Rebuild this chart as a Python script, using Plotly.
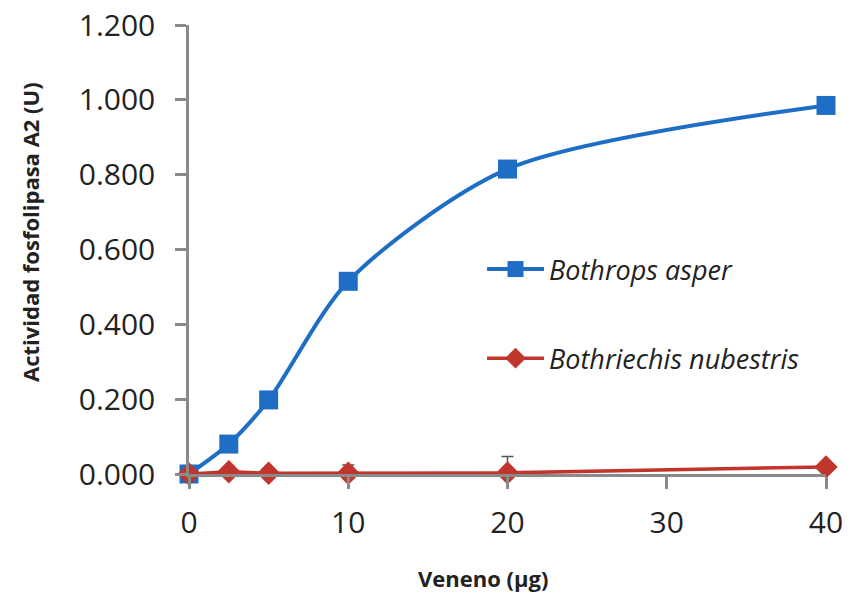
import plotly.graph_objects as go

x_vals = [0, 2.5, 5, 10, 20, 40]
bothrops = [0.000, 0.080, 0.198, 0.515, 0.815, 0.985]
bothriechis = [0.000, 0.006, 0.002, 0.002, 0.003, 0.019]
bothriechis_err = [0.0, 0.0, 0.0, 0.022, 0.044, 0.0]
y_ticks = [0, 0.2, 0.4, 0.6, 0.8, 1.0, 1.2]
y_labels = ["0.000", "0.200", "0.400", "0.600", "0.800", "1.000", "1.200"]
x_ticks = [0, 10, 20, 30, 40]

FONT = "Open Sans, Liberation Sans, sans-serif"
BLUE = "#1F6EC6"
RED = "#C0362C"

fig = go.Figure()
fig.add_trace(go.Scatter(
    x=x_vals, y=bothrops, mode="lines+markers", name="Bothrops asper",
    line=dict(color=BLUE, width=4, shape="spline", smoothing=0.8),
    marker=dict(symbol="square", size=19, color=BLUE),
    cliponaxis=False, legendgroup="a",
))
fig.add_trace(go.Scatter(
    x=x_vals, y=bothriechis, mode="lines+markers", name="Bothriechis nubestris",
    line=dict(color=RED, width=3.5),
    marker=dict(symbol="diamond", size=18, color=RED),
    error_y=dict(type="data", array=bothriechis_err, color="#555555", thickness=1.5, width=6),
    cliponaxis=False, legendgroup="b",
))

fig.update_layout(
    width=849, height=594,
    margin=dict(l=189, r=23, t=25, b=120, autoexpand=False),
    paper_bgcolor="white", plot_bgcolor="white",
    font=dict(family=FONT, color="#222222"),
    showlegend=True,
    legend=dict(x=0.46, y=0.51, xanchor="left", yanchor="top",
                font=dict(size=27, style="italic", color="#222222"),
                itemwidth=57, tracegroupgap=51, bgcolor="rgba(0,0,0,0)"),
    xaxis=dict(
        range=[0, 40], tickvals=x_ticks, ticktext=[str(t) for t in x_ticks],
        showline=True, linecolor="#8A8A8A", linewidth=2.5,
        ticks="outside", ticklen=12, tickwidth=2.5, tickcolor="#8A8A8A",
        showgrid=False, zeroline=False, automargin=False,
        tickfont=dict(size=30, family=FONT, color="#222222"),
        ticklabelstandoff=8,
    ),
    yaxis=dict(
        range=[0, 1.2], tickvals=y_ticks, ticktext=y_labels,
        showline=True, linecolor="#8A8A8A", linewidth=2.5,
        ticks="outside", ticklen=11, tickwidth=2.5, tickcolor="#8A8A8A",
        showgrid=False, zeroline=False, automargin=False,
        tickfont=dict(size=30, family=FONT, color="#222222"),
        ticklabelstandoff=14,
    ),
    annotations=[
        dict(text="<b>Actividad fosfolipasa A2 (U)</b>", xref="paper", yref="paper",
             x=-0.2496, y=0.539, textangle=-90, showarrow=False,
             xanchor="center", yanchor="middle",
             font=dict(size=22, family=FONT, color="#222222")),
        dict(text="<b>Veneno (µg)</b>", xref="paper", yref="paper",
             x=0.4615, y=-0.2316, showarrow=False,
             xanchor="center", yanchor="middle",
             font=dict(size=22, family=FONT, color="#222222")),
    ],
)

fig.write_html("out.html")
